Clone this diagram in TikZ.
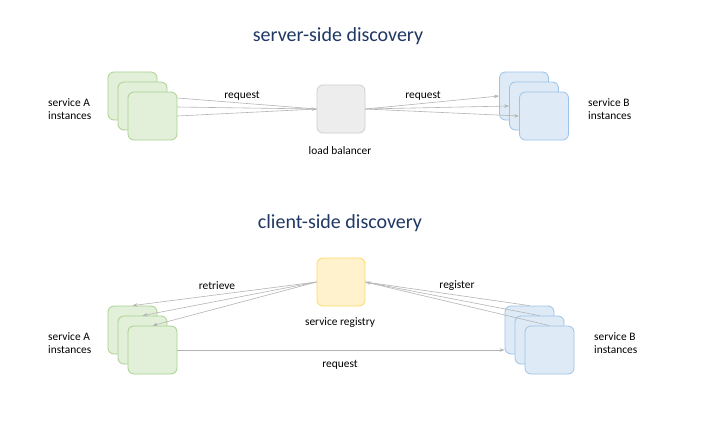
\documentclass[tikz,border=0pt]{standalone}
\usepackage{fontspec}
\setmainfont{Carlito}
\usetikzlibrary{arrows.meta}
\definecolor{gfill}{HTML}{E2F0D9}
\definecolor{gdraw}{HTML}{A9D18E}
\definecolor{bfill}{HTML}{DEEBF7}
\definecolor{bdraw}{HTML}{9DC3E6}
\definecolor{lfill}{HTML}{EDEDED}
\definecolor{ldraw}{HTML}{D0CECE}
\definecolor{yfill}{HTML}{FFF2CC}
\definecolor{ydraw}{HTML}{FFD966}
\definecolor{titlec}{HTML}{1F3864}
\definecolor{arrc}{HTML}{B4B4B4}
\tikzset{
  box/.style={rounded corners=6pt, minimum width=49pt, minimum height=48pt, inner sep=0pt, line width=0.8pt},
  gbox/.style={box, fill=gfill, draw=gdraw},
  bbox/.style={box, fill=bfill, draw=bdraw},
  lbox/.style={box, fill=lfill, draw=ldraw, minimum width=48pt},
  ybox/.style={box, fill=yfill, draw=ydraw, minimum width=48pt},
  lbl/.style={font=\fontsize{11.4}{13.5}\selectfont, text=black, inner sep=0pt},
  side/.style={lbl, align=left, anchor=west},
  ttl/.style={font=\fontsize{20}{24}\selectfont, text=titlec, inner sep=0pt},
  arr/.style={draw=arrc, line width=0.6pt, -{Stealth[length=5pt,width=3.5pt]}},
  ln/.style={draw=arrc, line width=0.6pt}
}
\begin{document}
\begin{tikzpicture}[x=1pt,y=-1pt]
\useasboundingbox[fill=white] (0,0) rectangle (721,424);
% titles
\node[ttl] (t1) at (338,36) {server-side discovery};
\node[ttl] (t2) at (340,223) {client-side discovery};
% top section
\node[gbox] (A1) at (132.5,96) {};
\node[gbox] (A2) at (142.5,106) {};
\node[gbox] (A3) at (152.5,116) {};
\node[lbox] (LB) at (341,109) {};
\node[bbox] (B1) at (524,96) {};
\node[bbox] (B2) at (534,106) {};
\node[bbox] (B3) at (544,116) {};
\node[side] (sa1) at (48,109) {service A\\instances};
\node[side] (sb1) at (588,109) {service B\\instances};
\node[lbl] (lbl1) at (340,150.5) {load balancer};
\node[lbl] (rq1) at (242,95.5) {request};
\node[lbl] (rq2) at (423,95.5) {request};
\draw[ln] ([yshift=18pt]A3.east) -- (LB.west);
\draw[ln] ([yshift=9pt]A3.east) -- (LB.west);
\draw[arr] (A3.east) -- (LB.west);
\draw[arr] (LB.east) -- (B1.west);
\draw[arr] (LB.east) -- (B2.west);
\draw[arr] (LB.east) -- (B3.west);
% bottom section
\node[ybox] (SR) at (341,282) {};
\node[gbox] (C1) at (132.5,330) {};
\node[gbox] (C2) at (142.5,340) {};
\node[gbox] (C3) at (152.5,350) {};
\node[bbox] (D1) at (529.5,330) {};
\node[bbox] (D2) at (539.5,340) {};
\node[bbox] (D3) at (549.5,350) {};
\node[side] (sa2) at (48,343) {service A\\instances};
\node[side] (sb2) at (594,343) {service B\\instances};
\node[lbl] (lbl2) at (340,322.5) {service registry};
\node[lbl] (rt) at (217,285.5) {retrieve};
\node[lbl] (rg) at (457,285.5) {register};
\node[lbl] (rq3) at (340,364.5) {request};
\draw[arr] (SR.west) -- (C1.north);
\draw[arr] (SR.west) -- (C2.north);
\draw[arr] (SR.west) -- (C3.north);
\draw[ln] (D1.north) -- (SR.east);
\draw[ln] (D2.north) -- (SR.east);
\draw[arr] (D3.north) -- (SR.east);
\draw[arr] (C3.east) -- (C3.east -| D1.west);
\end{tikzpicture}
\end{document}
